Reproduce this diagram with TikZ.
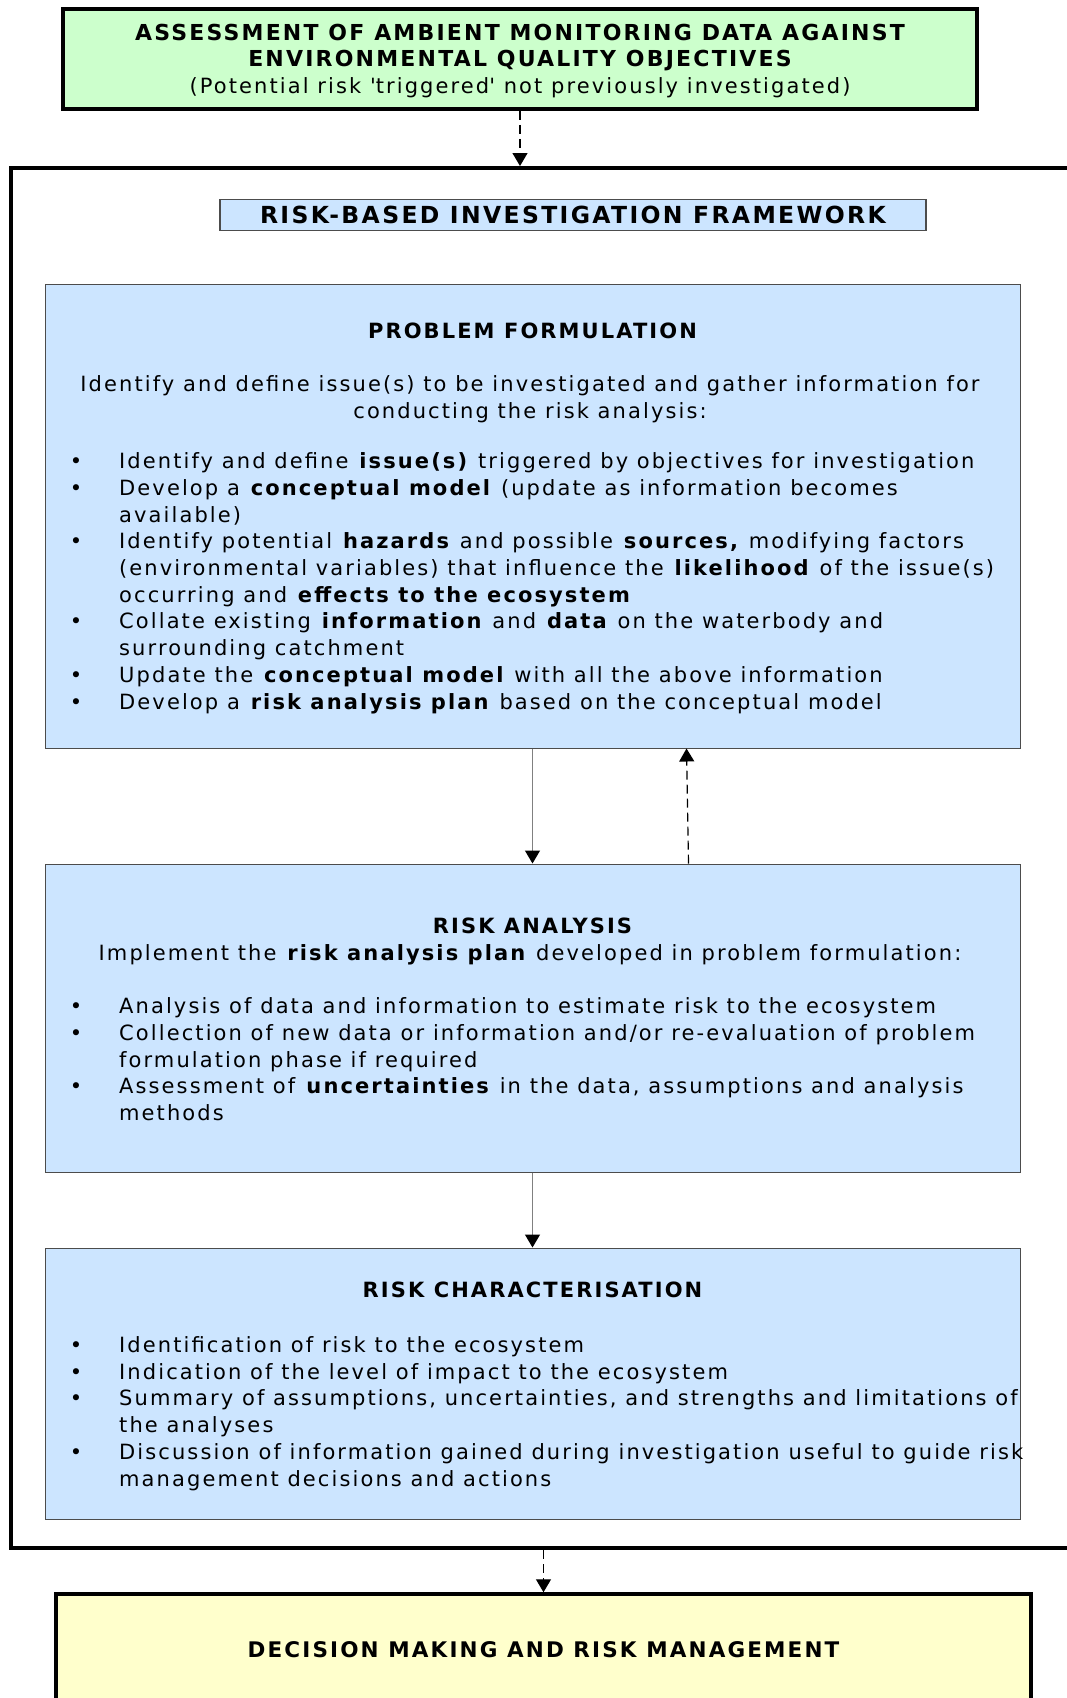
\documentclass[tikz,border=0pt]{standalone}
\usepackage{fontspec}
\setmainfont{DejaVu Sans}[LetterSpace = 10]
\usetikzlibrary{arrows.meta}

\definecolor{boxgreen}{RGB}{204,255,204}
\definecolor{boxblue}{RGB}{204,229,255}
\definecolor{boxyellow}{RGB}{255,255,204}

\newcommand{\bodysize}{\fontsize{21}{26.7}\selectfont}
\newcommand{\bul}{\llap{\textbullet\hspace{37pt}}}

\tikzset{
  thickbox/.style = {draw = black, line width = 3.5pt, inner sep = 0pt},
  stagebox/.style = {draw = black!70, line width = 1pt, fill = boxblue, inner sep = 0pt},
  head/.style = {font = \bodysize\bfseries, anchor = base, inner sep = 0pt},
  body/.style = {font = \bodysize, align = left, anchor = base west, inner sep = 0pt},
  link/.style = {line width = 1.2pt, draw = gray, -{Triangle[length = 13pt, width = 15pt, color = black]}},
  hint/.style = {line width = 1.2pt, dash pattern = on 9pt off 5pt, -{Triangle[length = 13pt, width = 15pt]}},
}

\begin{document}
\begin{tikzpicture}[x = 1pt, y = -1pt]
\useasboundingbox (0,0) rectangle (1067,1698);

% trigger box on top
\node[thickbox, fill = boxgreen, minimum width = 914pt, minimum height = 100pt] (trigger) at (520, 59) {};
\node[head, align = center, font = \fontsize{22}{26.5}\selectfont\bfseries] (triggertext) at (520, 93) {ASSESSMENT OF AMBIENT MONITORING DATA AGAINST\\ ENVIRONMENTAL QUALITY OBJECTIVES\\ \mdseries\fontsize{21}{26.5}\selectfont (Potential risk \textquotesingle triggered\textquotesingle\ not previously investigated)};

% framework frame (runs off the right edge)
\node[draw = black, line width = 4pt, minimum width = 1090pt, minimum height = 1380pt, inner sep = 0pt] (frame) at (556, 858) {};
\node[draw = black!70, line width = 1.2pt, fill = boxblue, minimum width = 706pt, minimum height = 31.4pt, inner sep = 0pt, font = \fontsize{23.5}{26}\selectfont\bfseries] (title) at (573, 215) {RISK-BASED INVESTIGATION FRAMEWORK};

% problem formulation
\node[stagebox, minimum width = 975pt, minimum height = 464pt] (pf) at (532.5, 516) {};
\node[head] (pfhead) at (532.5, 338) {PROBLEM FORMULATION};
\node[head, font = \bodysize, align = center] (pfintro) at (530, 418.5) {Identify and define issue(s) to be investigated and gather information for\\ conducting the risk analysis:};
% list nodes sit on the baseline of their last line
\node[body] (pflist) at (119, 709) {\bul Identify and define \textbf{issue(s)} triggered by objectives for investigation\\
\bul Develop a \textbf{conceptual model} (update as information becomes\\ available)\\
\bul Identify potential \textbf{hazards} and possible \textbf{sources,} modifying factors\\ (environmental variables) that influence the \textbf{likelihood} of the issue(s)\\ occurring and \textbf{effects to the ecosystem}\\
\bul Collate existing \textbf{information} and \textbf{data} on the waterbody and\\ surrounding catchment\\
\bul Update the \textbf{conceptual model} with all the above information\\
\bul Develop a \textbf{risk analysis plan} based on the conceptual model};

% risk analysis
\node[stagebox, minimum width = 975pt, minimum height = 308pt] (ra) at (532.5, 1018) {};
\node[head] (rahead) at (532.5, 933.5) {RISK ANALYSIS};
\node[head, font = \bodysize] (raintro) at (530, 960.5) {Implement the \textbf{risk analysis plan} developed in problem formulation:};
\node[body] (ralist) at (119, 1120.5) {\bul Analysis of data and information to estimate risk to the ecosystem\\
\bul Collection of new data or information and/or re-evaluation of problem\\ formulation phase if required\\
\bul Assessment of \textbf{uncertainties} in the data, assumptions and analysis\\ methods};

% risk characterisation
\node[stagebox, minimum width = 975pt, minimum height = 271pt] (rc) at (532.5, 1383.5) {};
\node[head] (rchead) at (532.5, 1297) {RISK CHARACTERISATION};
\node[body] (rclist) at (119, 1486) {\bul Identification of risk to the ecosystem\\
\bul Indication of the level of impact to the ecosystem\\
\bul Summary of assumptions, uncertainties, and strengths and limitations of\\ the analyses\\
\bul Discussion of information gained during investigation useful to guide risk\\ management decisions and actions};

% decision box at the foot
\node[thickbox, fill = boxyellow, minimum width = 975pt, minimum height = 170pt] (decision) at (543.5, 1679) {};
\node[head, font = \fontsize{21.5}{26}\selectfont\bfseries] (decisionhead) at (543.5, 1657) {DECISION MAKING AND RISK MANAGEMENT};

% connectors
\draw[hint] (trigger.south) -- (trigger.south |- frame.north);
\draw[link] (pf.south) -- (ra.north);
\draw[hint] ([xshift = 156pt]ra.north) -- ([xshift = 154pt]pf.south);
\draw[link] (ra.south) -- (rc.north);
\draw[hint] (decision.north |- frame.south) -- (decision.north);
\end{tikzpicture}
\end{document}
